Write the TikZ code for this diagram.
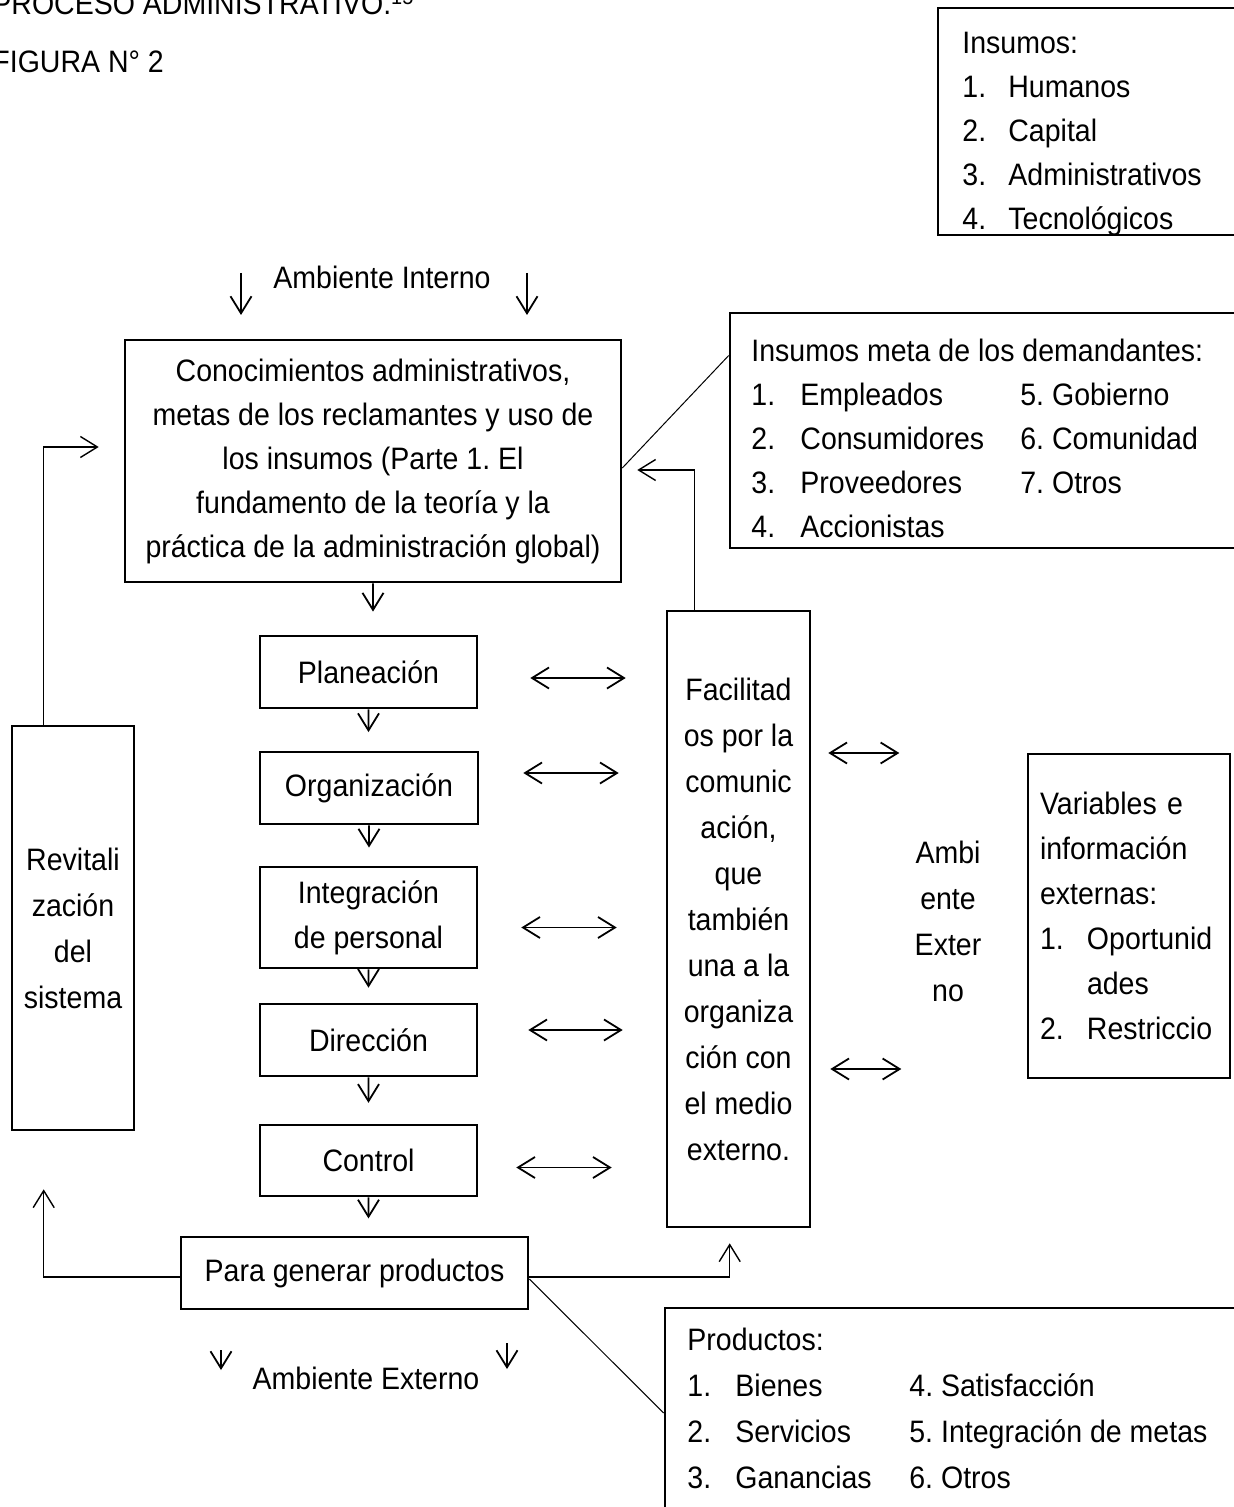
\documentclass[tikz,border=0pt]{standalone}
\usepackage{fontspec}
\setmainfont{Liberation Sans}[FakeStretch=0.92]
\usetikzlibrary{arrows.meta, positioning, calc}

\newcommand{\diagfont}[1]{\fontsize{15.5pt}{#1}\selectfont\frenchspacing}
\newcommand{\listItem}[3][23.5pt]{\makebox[#1][l]{#2}#3}

\tikzset{
    procBox/.style={
        draw=black, fill=white, line width=1.3pt, align=center, inner sep=0pt
    },
    frameBox/.style={
        draw=black, line width=1.3pt, inner sep=0pt
    },
    listText/.style={
        anchor=north west, inner sep=0pt
    },
    flowArrow/.style={
        -{Straight Barb[length=8.5pt, width=10.5pt]}, line width=0.9pt, draw=black
    },
    biArrow/.style={
        {Straight Barb[length=8.5pt, width=10.5pt]}-{Straight Barb[length=8.5pt, width=10.5pt]}, line width=0.9pt, draw=black
    },
    linkArrow/.style={
        -{Straight Barb[length=8.5pt, width=10.5pt]}, line width=0.7pt, draw=black
    },
    linkLine/.style={
        line width=0.5pt, draw=black
    }
}

\begin{document}
\begin{tikzpicture}[x=0.5pt, y=-0.5pt, every node/.style={font=\diagfont{22.5pt}}]
    \path[use as bounding box, fill=white] (0,0) rectangle (1233,1507);

    % ── TITLE
    \node[anchor=base west, inner sep=0pt] (titulo) at (-8,15) {PROCESO ADMINISTRATIVO.\textsuperscript{15}};
    \node[anchor=base west, inner sep=0pt] (figura) at (-8,73) {FIGURA N° 2};

    % ── INSUMOS
    \node[frameBox, minimum width=153.5pt, minimum height=113.5pt] (insumos) at (1091.5,121.5) {};
    \node[listText, font=\diagfont{22pt}] (insumosTxt) at (962,22) {%
        \begin{tabular}{@{}l@{}}
        Insumos:\\
        \listItem[23pt]{1.}{Humanos}\\
        \listItem[23pt]{2.}{Capital}\\
        \listItem[23pt]{3.}{Administrativos}\\
        \listItem[23pt]{4.}{Tecnológicos}
        \end{tabular}};

    % ── AMBIENTE INTERNO
    \node (ambInt) at (382,277) {Ambiente Interno};

    % ── CENTRAL COLUMN
    \node[procBox, minimum width=248pt, minimum height=121pt, font=\diagfont{22pt}] (conoc) at (373,461) {
        Conocimientos administrativos,\\
        metas de los reclamantes y uso de\\
        los insumos (Parte 1. El\\
        fundamento de la teoría y la\\
        práctica de la administración global)
    };
    \node[procBox, minimum width=108.5pt, minimum height=36pt] (plan) at (368.5,672) {Planeación};
    \node[procBox, minimum width=109pt, minimum height=36pt] (org) at (369,788) {Organización};
    \node[procBox, minimum width=108.5pt, minimum height=50.5pt] (integ) at (368.5,917.5) {Integración\\de personal};
    \node[procBox, minimum width=108.5pt, minimum height=36pt] (dir) at (368.5,1040) {Dirección};
    \node[procBox, minimum width=108.5pt, minimum height=35.5pt] (control) at (368.5,1160.5) {Control};
    \node[procBox, minimum width=173.5pt, minimum height=36pt] (para) at (354.5,1273) {Para generar productos};
    \node (ambExt) at (366,1378) {Ambiente Externo};

    % ── SIDE BLOCKS
    \node[procBox, minimum width=61pt, minimum height=202pt, font=\diagfont{23pt}] (revit) at (73,928) {
        Revitali\\zación\\del\\sistema
    };
    \node[procBox, minimum width=71.5pt, minimum height=308pt, font=\diagfont{23pt}] (facil) at (738.5,919) {
        Facilitad\\os por la\\comunic\\ación,\\que\\también\\una a la\\organiza\\ción con\\el medio\\externo.
    };
    \node[font=\diagfont{23pt}, align=center, inner sep=0pt] (ambiExt) at (948,921) {Ambi\\ente\\Exter\\no};
    \node[procBox, align=left, text width=89pt, inner xsep=6pt, minimum height=162pt] (variables) at (1129,916) {
        Variables e\\
        información\\
        externas:\\
        \listItem{1.}{Oportunid}\\
        \hspace*{23.5pt}ades\\
        \listItem{2.}{Restriccio}
    };

    % ── INSUMOS META
    \node[frameBox, minimum width=257.5pt, minimum height=117.5pt] (meta) at (987.5,430.5) {};
    \node[listText, font=\diagfont{22pt}] (metaTxt) at (751,330) {%
        \begin{tabular}{@{}p{134.5pt}@{}l@{}}
        \multicolumn{2}{@{}l@{}}{Insumos meta de los demandantes:}\\
        \listItem[24.5pt]{1.}{Empleados} & 5. Gobierno\\
        \listItem[24.5pt]{2.}{Consumidores} & 6. Comunidad\\
        \listItem[24.5pt]{3.}{Proveedores} & 7. Otros\\
        \listItem[24.5pt]{4.}{Accionistas} &
        \end{tabular}};

    % ── PRODUCTOS
    \node[frameBox, minimum width=290pt, minimum height=106pt] (productos) at (955,1414) {};
    \node[listText, font=\diagfont{23pt}] (prodTxt) at (687,1318) {%
        \begin{tabular}{@{}p{111pt}@{}l@{}}
        \multicolumn{2}{@{}l@{}}{Productos:}\\
        \listItem[24pt]{1.}{Bienes} & 4. Satisfacción\\
        \listItem[24pt]{2.}{Servicios} & 5. Integración de metas\\
        \listItem[24pt]{3.}{Ganancias} & 6. Otros
        \end{tabular}};

    % ── FLOW ARROWS
    \foreach \a/\b in {conoc/plan, plan/org, org/integ, integ/dir, dir/control, control/para}
        \draw[flowArrow] (\a.south) -- ($(\a.south)!0.55!(\a.south |- \b.north)$);

    % ── DOUBLE ARROWS
    \foreach \n/\dy/\s/\e in {plan/6/52/40, org/-15/44/47, integ/10/43/49, dir/-10/50/43, control/7/38/54}
        \draw[biArrow] ($(\n.east)+(\s,\dy)$) -- ($(\n.east -| facil.west)+(-\e,\dy)$);
    \draw[biArrow] ($(facil.east)+(17,-166)$) -- ($(facil.east -| ambiExt.west)+(-15,-166)$);
    \draw[biArrow] ($(facil.east)+(19,150)$) -- ($(facil.east -| ambiExt.west)+(-13,150)$);

    % ── FEEDBACK LINES
    \draw[linkArrow] ($(facil.north west)+(29,0)$) |- ($(conoc.east)+(15,9)$);
    \draw[linkArrow] ($(revit.north west)+(33,0)$) |- ($(conoc.west)+(-25,-14)$);
    \draw[linkArrow] ($(para.west)+(0,4)$) -| ($(revit.south west)+(33,58)$);
    \draw[linkArrow] ($(para.east)+(0,4)$) -| ($(facil.south west)+(64,15)$);
    \draw[linkLine] ($(conoc.east)+(0,7)$) -- ($(meta.west)+(0,-75)$);
    \draw[linkLine] ($(para.east)+(0,6)$) -- ($(productos.west)+(0,-1)$);

    % ── AMBIENT ARROWS
    \draw[flowArrow] ($(ambInt.center)+(-141,-4)$) -- ++(0,42);
    \draw[flowArrow] ($(ambInt.center)+(145,-4)$) -- ++(0,42);
    \draw[flowArrow] ($(ambExt.center)+(-145,-28)$) -- ++(0,20);
    \draw[flowArrow] ($(ambExt.center)+(141,-35)$) -- ++(0,26);
\end{tikzpicture}
\end{document}
